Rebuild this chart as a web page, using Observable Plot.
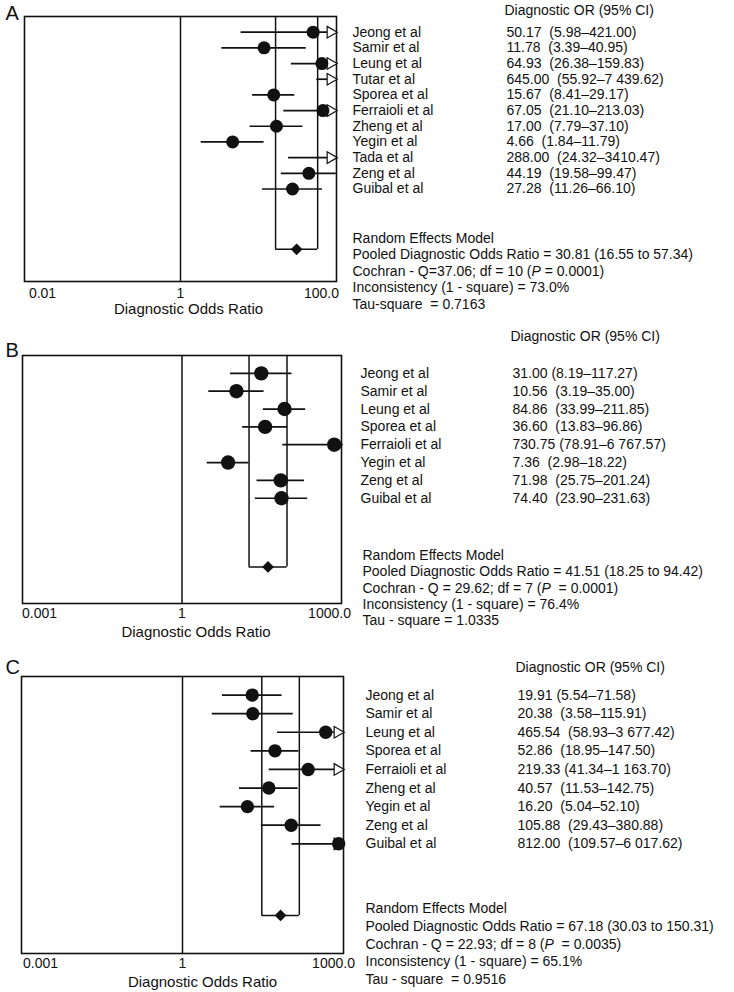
<!DOCTYPE html>
<html><head><meta charset="utf-8">
<script src="https://cdn.jsdelivr.net/npm/d3@7"></script>
<script src="https://cdn.jsdelivr.net/npm/@observablehq/plot@0.6"></script>
<style>
body{margin:0;background:#fff;width:734px;overflow:hidden}
#chart svg{display:block}
#chart svg text{white-space:pre}
</style></head><body><div id="chart"></div>
<script>
// ---------- Panel A ----------
const studiesA = ["Jeong et al","Samir et al","Leung et al","Tutar et al","Sporea et al","Ferraioli et al","Zheng et al","Yegin et al","Tada et al","Zeng et al","Guibal et al"];
const orA = [50.17,11.78,64.93,645.00,15.67,67.05,17.00,4.66,288.00,44.19,27.28];
const loA = [5.98,3.39,26.38,55.92,8.41,21.10,7.79,1.84,24.32,19.58,11.26];
const hiA = [421.00,40.95,159.83,7439.62,29.17,213.03,37.10,11.79,3410.47,99.47,66.10];
const ciTextA = ["50.17  (5.98–421.00)","11.78  (3.39–40.95)","64.93  (26.38–159.83)","645.00  (55.92–7 439.62)","15.67  (8.41–29.17)","67.05  (21.10–213.03)","17.00  (7.79–37.10)","4.66  (1.84–11.79)","288.00  (24.32–3410.47)","44.19  (19.58–99.47)","27.28  (11.26–66.10)"];
const pooledA = [30.81, 16.55, 57.34];
const statsA = ["Random Effects Model","Pooled Diagnostic Odds Ratio = 30.81 (16.55 to 57.34)","Cochran - Q=37.06; df = 10 (P = 0.0001)","Inconsistency (1 - square) = 73.0%","Tau-square  = 0.7163"];
const tickValsA = [0.01, 1, 100];
const tickLabelsA = ["0.01","1","100.0"];

// ---------- Panel B ----------
const studiesB = ["Jeong et al","Samir et al","Leung et al","Sporea et al","Ferraioli et al","Yegin et al","Zeng et al","Guibal et al"];
const orB = [31.00,10.56,84.86,36.60,730.75,7.36,71.98,74.40];
const loB = [8.19,3.19,33.99,13.83,78.91,2.98,25.75,23.90];
const hiB = [117.27,35.00,211.85,96.86,6767.57,18.22,201.24,231.63];
const ciTextB = ["31.00 (8.19–117.27)","10.56  (3.19–35.00)","84.86  (33.99–211.85)","36.60  (13.83–96.86)","730.75 (78.91–6 767.57)","7.36  (2.98–18.22)","71.98  (25.75–201.24)","74.40  (23.90–231.63)"];
const pooledB = [41.51, 18.25, 94.42];
const statsB = ["Random Effects Model","Pooled Diagnostic Odds Ratio = 41.51 (18.25 to 94.42)","Cochran - Q = 29.62; df = 7 (P  = 0.0001)","Inconsistency (1 - square) = 76.4%","Tau - square = 1.0335"];
const tickValsB = [0.001, 1, 1000];
const tickLabelsB = ["0.001","1","1000.0"];

// ---------- Panel C ----------
const studiesC = ["Jeong et al","Samir et al","Leung et al","Sporea et al","Ferraioli et al","Zheng et al","Yegin et al","Zeng et al","Guibal et al"];
const orC = [19.91,20.38,465.54,52.86,219.33,40.57,16.20,105.88,812.00];
const loC = [5.54,3.58,58.93,18.95,41.34,11.53,5.04,29.43,109.57];
const hiC = [71.58,115.91,3677.42,147.50,1163.70,142.75,52.10,380.88,6017.62];
const ciTextC = ["19.91 (5.54–71.58)","20.38  (3.58–115.91)","465.54  (58.93–3 677.42)","52.86  (18.95–147.50)","219.33 (41.34–1 163.70)","40.57  (11.53–142.75)","16.20  (5.04–52.10)","105.88  (29.43–380.88)","812.00  (109.57–6 017.62)"];
const pooledC = [67.18, 30.03, 150.31];
const statsC = ["Random Effects Model","Pooled Diagnostic Odds Ratio = 67.18 (30.03 to 150.31)","Cochran - Q = 22.93; df = 8 (P  = 0.0035)","Inconsistency (1 - square) = 65.1%","Tau - square  = 0.9516"];
const tickValsC = [0.001, 1, 1000];
const tickLabelsC = ["0.001","1","1000.0"];

const header = "Diagnostic OR (95% CI)";
const xTitle = "Diagnostic Odds Ratio";

const FONT = "'Liberation Sans', Arial, Helvetica, sans-serif";
const INK = "#111";

function panel(d, L) {
  const n = d.studies.length;
  const idx = d3.range(n);
  const xmin = d.ticks[0], xmax = d.ticks[d.ticks.length - 1];
  const pooledRow = n + 2.85;
  const T = {fontSize: 14, fill: INK, lineAnchor: "middle", textAnchor: "start"};
  const marks = [
    Plot.frame({stroke: INK, strokeWidth: 1.6}),
    Plot.ruleX([1], {stroke: INK, strokeWidth: 1.5}),
    // pooled CI box
    Plot.ruleX([d.pooled[1], d.pooled[2]], {y1: -1, y2: pooledRow, stroke: INK, strokeWidth: 1.5}),
    Plot.ruleY([pooledRow], {x1: d.pooled[1], x2: d.pooled[2], stroke: INK, strokeWidth: 1.5}),
    // CI lines
    Plot.ruleY(idx, {y: i => i, x1: i => Math.max(d.lo[i], xmin), x2: i => Math.min(d.hi[i], xmax), stroke: INK, strokeWidth: 1.7}),
    // arrows for truncated CIs
    Plot.dot(idx.filter(i => d.hi[i] > xmax), {x: () => xmax, y: i => i, symbol: "triangle", rotate: 90, r: 4.3, dx: -6, fill: "white", stroke: INK, strokeWidth: 1.2}),
    // point estimates
    Plot.dot(idx.filter(i => d.or[i] <= xmax), {x: i => d.or[i], y: i => i, r: L.r, fill: INK, stroke: "none"}),
    // pooled diamond
    Plot.dot([d.pooled[0]], {x: v => v, y: () => pooledRow, symbol: "diamond2", r: 5.3, fill: INK, stroke: "none"}),
    // study names
    Plot.text(idx, {...T, y: i => i, text: i => d.studies[i], frameAnchor: "right", dx: L.nameDx}),
    // CI text
    Plot.text(idx, {...T, y: i => i, text: i => d.ciText[i], frameAnchor: "right", dx: L.valDx}),
    Plot.text([header], {...T, text: t => t, frameAnchor: "top-right", dx: L.valDx - 2, dy: L.headerDy}),
    // stats
    ...d.stats.map((s, k) => Plot.text([s], {...T, text: t => t, frameAnchor: "bottom-right", dx: L.statDx, dy: L.statDy0 + k * L.statStep})),
    // tick labels
    ...d.ticks.map((t, k) => Plot.text([t], {...T, x: v => v, text: () => d.tickLabels[k], frameAnchor: "bottom", dy: L.tickDy, dx: L.tickDx[k], textAnchor: "middle"})),
    Plot.text([1], {...T, x: v => v, text: () => xTitle, frameAnchor: "bottom", dy: L.titleDy, dx: L.titleDx, textAnchor: "middle", fontSize: 15}),
    // panel letter
    Plot.text([d.letter], {...T, text: t => t, frameAnchor: "top-left", dx: L.letterDx, dy: L.letterDy, fontSize: 20})
  ];
  const svg = Plot.plot({
    width: 734,
    height: L.height,
    marginTop: L.mt, marginBottom: L.mb, marginLeft: L.ml, marginRight: L.mr,
    x: {type: "log", domain: [xmin, xmax], axis: null},
    y: {type: "linear", domain: [-1, n + 4.9], reverse: true, axis: null},
    style: {fontFamily: FONT, background: "white", overflow: "visible", color: INK},
    marks
  });
  // italicize the P in Cochran line
  svg.querySelectorAll("text").forEach(t => {
    const s = t.textContent;
    const m = s.indexOf("(P");
    if (m >= 0 && t.children.length === 0) {
      t.textContent = "";
      const ns = "http://www.w3.org/2000/svg";
      const a = document.createElementNS(ns, "tspan"); a.textContent = s.slice(0, m + 1);
      const b = document.createElementNS(ns, "tspan"); b.textContent = "P"; b.setAttribute("font-style", "italic");
      const c = document.createElementNS(ns, "tspan"); c.textContent = s.slice(m + 2);
      t.append(a, b, c);
    }
  });
  return svg;
}

const root = document.getElementById("chart");
root.append(panel(
  {letter: "A", studies: studiesA, or: orA, lo: loA, hi: hiA, ciText: ciTextA, pooled: pooledA, stats: statsA, ticks: tickValsA, tickLabels: tickLabelsA},
  {height: 320, mt: 16, mb: 39, ml: 24, mr: 398, r: 6.5, nameDx: 16, valDx: 170, headerDy: -6,
   statDx: 16, statDy0: -43, statStep: 16.5, tickDy: 12, tickDx: [18, 0, -15], titleDy: 28, titleDx: 8, letterDx: -19, letterDy: -3}
));
root.append(panel(
  {letter: "B", studies: studiesB, or: orB, lo: loB, hi: hiB, ciText: ciTextB, pooled: pooledB, stats: statsB, ticks: tickValsB, tickLabels: tickLabelsB},
  {height: 320, mt: 35, mb: 37, ml: 22, mr: 393, r: 7.2, nameDx: 19, valDx: 171, headerDy: -19,
   statDx: 21, statDy0: -48, statStep: 16.3, tickDy: 10, tickDx: [17, 0, -12], titleDy: 29, titleDx: 14, letterDx: -17, letterDy: -5}
));
root.append(panel(
  {letter: "C", studies: studiesC, or: orC, lo: loC, hi: hiC, ciText: ciTextC, pooled: pooledC, stats: statsC, ticks: tickValsC, tickLabels: tickLabelsC},
  {height: 352, mt: 36, mb: 39, ml: 21, mr: 391, r: 6.7, nameDx: 22, valDx: 174, headerDy: -9,
   statDx: 22, statDy0: -45, statStep: 17.8, tickDy: 10, tickDx: [19, 0, -10], titleDy: 29, titleDx: 20, letterDx: -16, letterDy: -9}
));
</script></body></html>
